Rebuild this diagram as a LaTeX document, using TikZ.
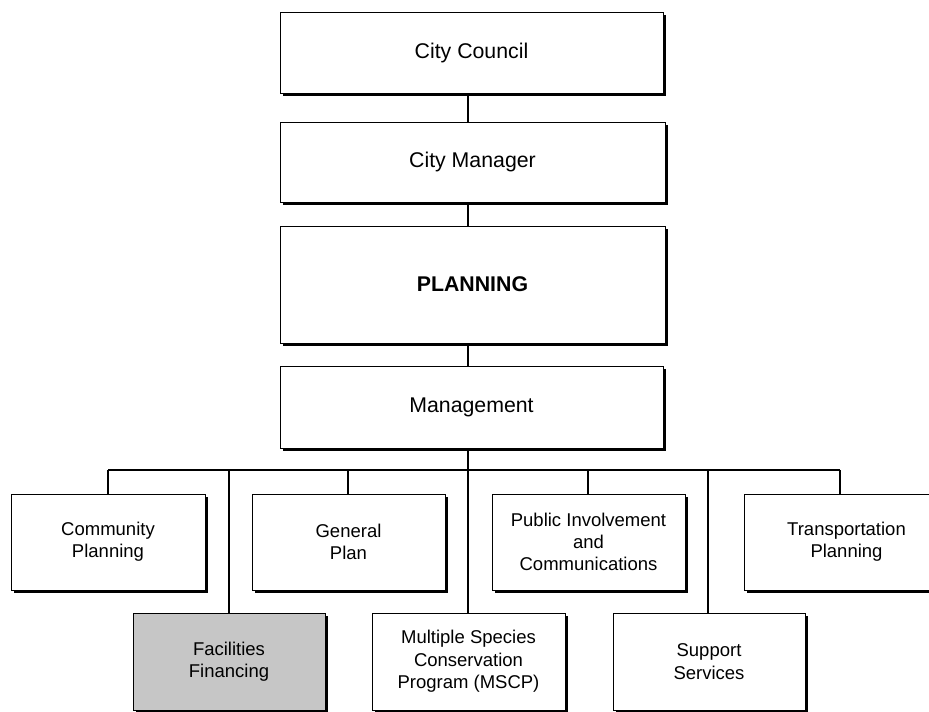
\documentclass[tikz,border=0pt]{standalone}
\usepackage{fontspec}
\setmainfont{Liberation Sans}
\begin{document}
\begin{tikzpicture}[x=1pt,y=-1pt,
  orgbox/.style={draw=black,line width=0.7pt,fill=white,inner sep=0pt,align=center},
  shadowfill/.style={fill=black},
  link/.style={line width=2pt,black},
  topfont/.style={font=\fontsize{21.3}{25}\selectfont},
  lowfont/.style={font=\fontsize{18.5}{22.3}\selectfont}]
\useasboundingbox (0,0) rectangle (929,712);
\clip (0,0) rectangle (929,712);
% top chain
\fill[shadowfill] (283,15) rectangle (666,96);
\node[orgbox,minimum width=383pt,minimum height=81pt,topfont] (council) at (471.5,52.5) {City Council};
\fill[shadowfill] (283,125) rectangle (668,205);
\node[orgbox,minimum width=385pt,minimum height=80pt,topfont] (manager) at (472.5,162) {City Manager};
\fill[shadowfill] (283,229) rectangle (668,346);
\node[orgbox,minimum width=385pt,minimum height=117pt,topfont] (planning) at (472.5,284.5) {\bfseries PLANNING};
\fill[shadowfill] (283,369) rectangle (666,451);
\node[orgbox,minimum width=383pt,minimum height=82pt,topfont] (mgmt) at (471.5,407) {Management};
% row 1
\fill[shadowfill] (14,497) rectangle (208,593);
\node[orgbox,minimum width=194pt,minimum height=96pt,lowfont] (comm) at (108,542) {Community\\Planning};
\fill[shadowfill] (255,497) rectangle (448,593);
\node[orgbox,minimum width=193pt,minimum height=96pt,lowfont] (gen) at (348.5,542) {General\\Plan};
\fill[shadowfill] (495,497) rectangle (688,593);
\node[orgbox,minimum width=193pt,minimum height=96pt,lowfont] (pub) at (588.5,542) {Public Involvement\\and\\Communications};
\fill[shadowfill] (747,497) rectangle (952,593);
\node[orgbox,minimum width=205pt,minimum height=96pt,lowfont] (trans) at (846.5,542) {Transportation\\Planning};
% row 2
\fill[shadowfill] (136,616) rectangle (328,713);
\node[orgbox,fill=gray!45,minimum width=192pt,minimum height=97pt,lowfont] (fac) at (229,661.5) {Facilities\\Financing};
\fill[shadowfill] (375,616) rectangle (568,713);
\node[orgbox,minimum width=193pt,minimum height=97pt,lowfont] (mscp) at (468.5,661.5) {Multiple Species\\Conservation\\Program (MSCP)};
\fill[shadowfill] (616,616) rectangle (808,713);
\node[orgbox,minimum width=192pt,minimum height=97pt,lowfont] (supp) at (709,661.5) {Support\\Services};
% connectors
\coordinate (busL) at (108,470);
\coordinate (busR) at (840,470);
\draw[link] (council.south -| 468,0) -- (manager.north -| 468,0);
\draw[link] (manager.south -| 468,0) -- (planning.north -| 468,0);
\draw[link] (planning.south -| 468,0) -- (mgmt.north -| 468,0);
\draw[link] (mgmt.south -| 468,0) -- (mscp.north -| 468,0);
\draw[link] (busL) -- (busR);
\draw[link] (busL) -- (busL |- comm.north);
\draw[link] (348,470) -- (348,0 |- gen.north);
\draw[link] (588,470) -- (588,0 |- pub.north);
\draw[link] (busR) -- (busR |- trans.north);
\draw[link] (229,470) -- (229,0 |- fac.north);
\draw[link] (708,470) -- (708,0 |- supp.north);
\end{tikzpicture}
\end{document}
